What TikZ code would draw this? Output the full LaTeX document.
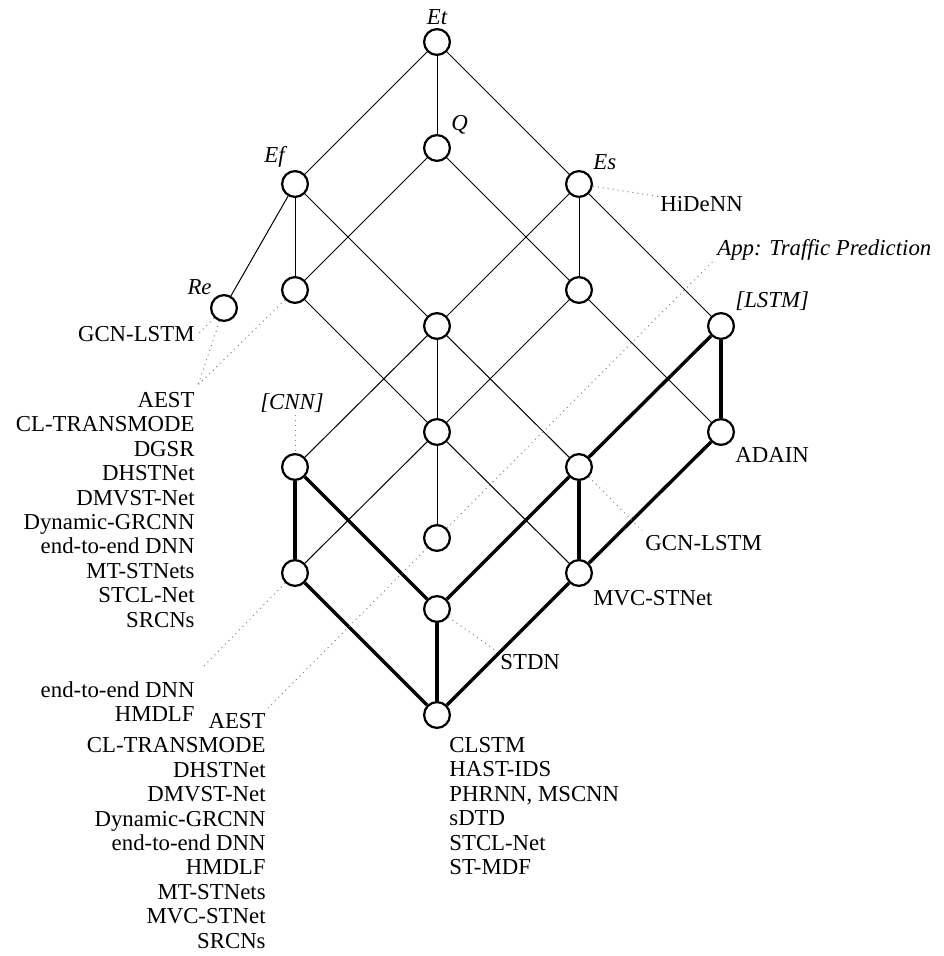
\documentclass[tikz,border=0pt]{standalone}
\usepackage{fontspec}
\setmainfont{Liberation Serif}
\begin{document}
\begin{tikzpicture}[x=0.5pt,y=-0.5pt,
  concept/.style={circle,draw,line width=1.1pt,fill=white,minimum size=12.9pt,inner sep=0pt},
  edge/.style={line width=0.5pt},
  strong/.style={line width=1.7pt},
  leader/.style={dotted,gray,line width=0.5pt},
  lbl/.style={inner sep=0pt,font=\fontsize{11.4}{12.2}\selectfont},
  attr/.style={inner sep=0pt,font=\fontsize{11.4}{12.2}\selectfont\itshape},
  list/.style={lbl,align=right},
  listl/.style={lbl,align=left},
]
\useasboundingbox (0,0) rectangle (943,956);

% concepts
\node[concept] (et)    at (437,42)  {};
\node[concept] (q)     at (437,148) {};
\node[concept] (ef)    at (295,184) {};
\node[concept] (es)    at (579,184) {};
\node[concept] (a)     at (295,290) {};
\node[concept] (b)     at (579,290) {};
\node[concept] (re)    at (224,308) {};
\node[concept] (c)     at (437,326) {};
\node[concept] (lstm)  at (721,326) {};
\node[concept] (d)     at (437,432) {};
\node[concept] (adain) at (721,432) {};
\node[concept] (cnn)   at (295,467) {};
\node[concept] (e)     at (579,467) {};
\node[concept] (f)     at (437,538) {};
\node[concept] (g)     at (295,573) {};
\node[concept] (mvc)   at (579,573) {};
\node[concept] (h)     at (437,609) {};
\node[concept] (bot)   at (437,715) {};

% thin edges
\draw[edge] (et) -- (ef);
\draw[edge] (et) -- (q);
\draw[edge] (et) -- (es);
\draw[edge] (ef) -- (re);
\draw[edge] (ef) -- (a);
\draw[edge] (ef) -- (c);
\draw[edge] (q) -- (a);
\draw[edge] (q) -- (b);
\draw[edge] (es) -- (c);
\draw[edge] (es) -- (b);
\draw[edge] (es) -- (lstm);
\draw[edge] (a) -- (d);
\draw[edge] (b) -- (d);
\draw[edge] (b) -- (adain);
\draw[edge] (c) -- (d);
\draw[edge] (c) -- (e);
\draw[edge] (c) -- (cnn);
\draw[edge] (d) -- (f);
\draw[edge] (d) -- (g);
\draw[edge] (d) -- (mvc);

% highlighted edges
\draw[strong] (lstm) -- (adain);
\draw[strong] (lstm) -- (e);
\draw[strong] (e) -- (h);
\draw[strong] (cnn) -- (g);
\draw[strong] (cnn) -- (h);
\draw[strong] (g) -- (bot);
\draw[strong] (h) -- (bot);
\draw[strong] (e) -- (mvc);
\draw[strong] (adain) -- (mvc);
\draw[strong] (mvc) -- (bot);

% attribute labels
\node[attr,anchor=base]      (etl)   at (437,25)  {Et};
\node[attr,anchor=base west] (ql)    at (451,131) {Q};
\node[attr,anchor=base east] (efl)   at (285,163) {Ef};
\node[attr,anchor=base west] (esl)   at (593,170) {Es};
\node[attr,anchor=base east] (rel)   at (212,295) {Re};
\node[attr,anchor=base]      (cnnl)  at (292,409) {[CNN]};
\node[attr,anchor=base west] (lstml) at (735,308) {[LSTM]};
\node[attr,anchor=base west] (app)   at (717,256) {App: Traffic Prediction};

% object labels
\node[lbl,anchor=base west] (hidenn) at (660,212) {HiDeNN};
\node[lbl,anchor=base west] (adainl) at (735,462) {ADAIN};
\node[lbl,anchor=base west] (gcnr)   at (645,550) {GCN-LSTM};
\node[lbl,anchor=base west] (mvcl)   at (593,605) {MVC-STNet};
\node[lbl,anchor=base west] (stdn)   at (500,669) {STDN};
\node[lbl,anchor=north east] (gcnl) at (195,326) {GCN-LSTM};
\node[list,anchor=north east] (aest1) at (195,392)
  {AEST\\CL-TRANSMODE\\DGSR\\DHSTNet\\DMVST-Net\\Dynamic-GRCNN\\end-to-end DNN\\MT-STNets\\STCL-Net\\SRCNs};
\node[list,anchor=north east] (list2) at (195,681)
  {end-to-end DNN\\HMDLF};
\node[list,anchor=north east] (aest2) at (266,713)
  {AEST\\CL-TRANSMODE\\DHSTNet\\DMVST-Net\\Dynamic-GRCNN\\end-to-end DNN\\HMDLF\\MT-STNets\\MVC-STNet\\SRCNs};
\node[listl,anchor=north west] (botl) at (449,737)
  {CLSTM\\HAST-IDS\\PHRNN, MSCNN\\sDTD\\STCL-Net\\ST-MDF};

% leader lines
\coordinate (j1) at ([xshift=1.5pt,yshift=3.5pt]aest1.north east);
\coordinate (j2) at ([xshift=1pt,yshift=2.5pt]aest2.north east);
\coordinate (cnnt) at (cnn |- cnnl.south);
\draw[leader] (re) -- ([xshift=1.5pt]gcnl.east);
\draw[leader] (re) -- (j1);
\draw[leader] (a) -- (j1);
\draw[leader] ([yshift=-1.5pt]cnnt) -- (cnn);
\draw[leader] (es) -- ([xshift=-1pt]hidenn.north west);
\draw[leader] (f) -- ([xshift=-2pt]app.south west);
\draw[leader] (f) -- (j2);
\draw[leader] (e) -- ([xshift=-1.5pt,yshift=2pt]gcnr.north west);
\draw[leader] (g) -- ([xshift=4pt,yshift=7pt]list2.north east);
\draw[leader] (h) -- ([xshift=-1.5pt,yshift=1pt]stdn.north west);
\end{tikzpicture}
\end{document}
